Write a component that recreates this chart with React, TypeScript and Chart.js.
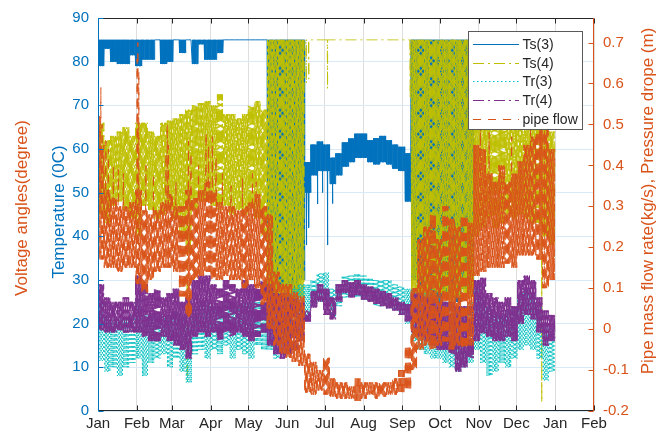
import React, { useEffect, useRef } from "react";
import { Chart, registerables } from "chart.js";

Chart.register(...registerables);

// ---------- axis / tick data ----------
const monthLabels = ["Jan", "Feb", "Mar", "Apr", "May", "Jun", "Jul", "Aug", "Sep", "Oct", "Nov", "Dec", "Jan", "Feb"];
const monthStartDays = [0, 31, 59, 90, 120, 151, 181, 212, 243, 273, 304, 334, 365, 396];
const tempTicks = [0, 10, 20, 30, 40, 50, 60, 70, 80, 90];
const flowTicks = [-0.2, -0.1, 0, 0.1, 0.2, 0.3, 0.4, 0.5, 0.6, 0.7];
const NODE_DAYS = 5; // each high/low pair below covers a 5-day window starting Jan 1

// ---------- series envelopes (5-day windows) ----------
const ts3High = [
  85, 85, 85, 85, 85, 85, 85, 85, 85, 85, 85, 85, 85, 85, 85, 85, 85, 85, 85, 85, 85, 85, 85, 85, 85, 85, 85,
  85, 85, 85, 85, 85, 85,
  57, 61, 61.7, 61, 58, 59, 61.5, 62.4, 63.5, 63.5, 62, 62.5, 63, 62, 61, 60.5, 59,
  85, 85, 85, 85, 85, 85, 85, 85, 85, 85,
  85, 85, 85, 85, 85, 85, 85, 85, 85, 85, 85, 85, 85,
];
const ts3Low = [
  79, 83, 80, 79.5, 79.5, 81.5, 79, 80.5, 80.5, 85, 79.5, 80, 85, 82, 85, 79.5, 84, 80.5, 80.5, 82, 85, 85, 85, 85, 85, 85, 85,
  27, 25, 28, 26, 25, 30,
  50, 54, 55, 55, 52, 54, 56, 57, 58, 58, 57, 56.5, 57, 56.5, 55.5, 55, 48,
  30, 27, 25, 26, 25, 27, 26, 25, 28, 27,
  85, 85, 85, 85, 85, 85, 85, 85, 85, 85, 85, 85, 85,
];
const ts3Spikes = [[166.3, 38], [168.3, 42], [175.3, 47.4], [179.3, 50], [183.3, 38], [187.3, 47.5]];

const ts4High = [
  66, 62, 63, 64, 65, 63, 66, 66, 64, 63, 66, 66.5, 67, 68, 69, 70, 70.5, 71, 70, 72.5, 68, 68, 67, 68, 70, 71, 69,
  85, 85, 85, 85, 85, 85,
  85, 85, 85, 85, 85, 85, 85, 85, 85, 85, 85, 85, 85, 85, 85, 85, 85,
  85, 85, 85, 85, 85, 85, 85, 85, 85, 85,
  70, 68, 66, 66, 67, 66, 65, 66, 67, 68, 66, 66, 64,
];
const ts4Low = [
  45, 43, 47, 48, 46, 44, 40, 47, 46, 44, 45, 46, 44, 40, 36, 46, 48, 48, 47, 46, 47, 45, 46, 45, 46, 44, 40,
  24, 23, 25, 24, 23, 26,
  85, 85, 85, 85, 85, 85, 85, 85, 85, 85, 85, 85, 85, 85, 85, 85, 85,
  26, 25, 26, 25, 27, 26, 25, 26, 27, 26,
  40, 42, 44, 42, 43, 45, 44, 45, 44, 43, 42, 40, 38,
];
const ts4Spikes = [[71.3, 7], [166.3, 75], [168.3, 76], [183.3, 73.8], [249.3, 71.5], [354.3, 2]];

const tr3High = [
  25, 22, 21, 21, 21, 22, 26, 22, 22, 22, 22, 22, 23, 22, 20, 24, 25, 25, 24, 24, 25, 25, 24, 25, 25, 26, 25,
  25, 24, 26, 27, 28, 29,
  29, 30, 31.5, 31.7, 28, 29, 31, 31, 31.5, 31, 30.5, 30, 30, 30, 29, 28.5, 28,
  28, 27, 27, 26, 26, 25, 25, 24, 24, 25,
  28, 26, 24, 22, 22, 23, 24, 27, 28, 27, 24, 20, 19,
];
const tr3Low = [
  11.5, 9, 10, 8, 10, 11, 12, 8, 11, 12, 13, 10, 12, 9, 6.5, 13, 14, 12, 14, 13, 15, 12, 14, 13, 12, 15, 14,
  14, 12, 15, 16, 18, 20,
  21, 24, 25, 25, 21.5, 24, 26, 26, 26, 25.5, 25, 24, 24, 23.5, 23, 22, 20,
  16, 14, 13, 12, 12, 11, 10, 9, 10, 11,
  14, 11, 8, 9, 11, 10, 12, 14, 15, 14, 12, 7, 9,
];
const tr3Spikes: number[][] = [];

const tr4High = [
  29, 26, 25, 25, 26, 25, 31, 29, 27, 28, 26, 27, 28, 25, 26, 30, 31, 31, 29, 28, 30, 29, 28, 30, 29, 29, 30,
  29, 27, 27, 26, 26, 25,
  23, 27.5, 29, 28, 26, 29, 30, 29.5, 30, 29, 28.5, 28, 27.5, 27, 26, 25, 24.5,
  27, 27, 26, 26, 25, 25, 25, 24, 24, 24,
  30, 30.5, 27, 26, 25, 26, 24, 30, 31, 30, 26, 23, 22,
];
const tr4Low = [
  18.5, 18, 18, 18.5, 18, 18, 18, 17, 16, 16, 17, 16, 15, 14, 12, 17, 18, 17, 18, 16, 18, 17, 18, 17, 16, 17, 18,
  15, 13, 12, 13, 14, 16,
  20.5, 23.7, 25, 22, 21, 25, 27, 26, 26.5, 25.5, 25, 24.5, 24, 23.5, 23, 22, 20.5,
  18, 17, 16, 15, 14, 14, 13, 9, 10, 12,
  16, 17.8, 17, 16, 16, 17, 16, 20, 22, 21, 18, 15, 16,
];
const tr4Spikes: number[][] = [];

const pipeHigh = [
  0.45, 0.34, 0.32, 0.3, 0.3, 0.31, 0.34, 0.29, 0.28, 0.29, 0.31, 0.33, 0.3, 0.3, 0.34, 0.32, 0.34, 0.36, 0.34, 0.31, 0.3, 0.3, 0.29, 0.3, 0.31, 0.33, 0.3,
  0.28, 0.14, 0.11, 0.11, 0.09, 0.08,
  -0.06, -0.08, -0.1, -0.07, -0.12, -0.13, -0.13, -0.14, -0.12, -0.13, -0.13, -0.13, -0.13, -0.13, -0.12, -0.1, -0.04,
  0.1, 0.22, 0.25, 0.28, 0.22, 0.3, 0.27, 0.25, 0.28, 0.26,
  0.45, 0.44, 0.38, 0.36, 0.4, 0.36, 0.38, 0.41, 0.45, 0.47, 0.5, 0.5, 0.44,
];
const pipeLow = [
  0.17, 0.15, 0.15, 0.14, 0.15, 0.15, 0.11, 0.09, 0.12, 0.14, 0.15, 0.15, 0.14, 0.08, 0.03, 0.12, 0.13, 0.14, 0.12, 0.12, 0.13, 0.12, 0.12, 0.1, 0.12, 0.1, 0.06,
  0.0, -0.04, -0.06, -0.07, -0.08, -0.09,
  -0.155, -0.16, -0.15, -0.16, -0.165, -0.17, -0.17, -0.17, -0.175, -0.17, -0.16, -0.17, -0.165, -0.16, -0.16, -0.155, -0.15,
  -0.1, -0.05, -0.04, -0.05, -0.04, -0.03, -0.05, -0.04, -0.05, -0.04,
  0.13, 0.14, 0.15, 0.15, 0.15, 0.16, 0.15, 0.18, 0.18, 0.18, 0.17, 0.1, 0.12,
];
const pipeSpikes = [
  [1.3, 0.52], [2.3, 0.59], [3.3, 0.5], [6.3, 0.46], [8.3, 0.44], [12.3, 0.4], [16.3, 0.39], [20.3, 0.38],
  [31.2, 0.66], [31.8, 0.7], [32.6, 0.63], [38.3, 0.4], [44.3, 0.38], [54.3, 0.43], [55.3, 0.5], [56.3, 0.45],
  [62.3, 0.36], [72.3, 0.46], [74.3, 0.43], [80.3, 0.4], [86.3, 0.48], [88.3, 0.45], [91.3, 0.47], [94.3, 0.42],
  [99.3, 0.38], [106.3, 0.35], [115.3, 0.37], [123.3, 0.38], [126.3, 0.36],
  [305.3, 0.5], [312.3, 0.48], [330.3, 0.47], [345.3, 0.52], [352.3, 0.56], [356.3, 0.58],
];

// ---------- styling ----------
const C_BLUE = "#0072BD";
const C_OLIVE = "#BFBF00";
const C_CYAN = "#00BFBF";
const C_PURPLE = "#7E2F8E";
const C_ORANGE = "#D95319";
const C_DARK = "#262626";
const FONT = '"Liberation Sans", Arial, Helvetica, sans-serif';

const DASH_DASHDOT = [11, 4, 2, 4];
const DASH_DOT = [1.5, 2.5];
const DASH_DASH = [8, 7];

const legendEntries = [
  { label: "Ts(3)", color: C_BLUE, dash: [] as number[] },
  { label: "Ts(4)", color: C_OLIVE, dash: DASH_DASHDOT },
  { label: "Tr(3)", color: C_CYAN, dash: DASH_DOT },
  { label: "Tr(4)", color: C_PURPLE, dash: DASH_DASHDOT },
  { label: "pipe flow", color: C_ORANGE, dash: DASH_DASH },
];

// Samples (every `step` days) alternate between the window's high and low envelope values.
function buildSeries(high: number[], low: number[], spikes: number[][], step: number) {
  const pts: { x: number; y: number }[] = [];
  const n = Math.round((high.length * NODE_DAYS) / step);
  for (let i = 0; i < n; i++) {
    const d = i * step;
    const k = Math.min(high.length - 1, Math.floor(d / NODE_DAYS + 1e-9));
    pts.push({ x: d, y: i % 2 === 0 ? high[k] : low[k] });
  }
  spikes.forEach(([d, v]) => pts.push({ x: d, y: v }));
  pts.sort((a, b) => a.x - b.x);
  return pts;
}

const overlayPlugin = {
  id: "matlabOverlay",
  afterDraw(chart: any) {
    const ctx: CanvasRenderingContext2D = chart.ctx;
    const { left, right, top, bottom } = chart.chartArea;
    const xs = chart.scales.x;
    const yl = chart.scales.y;
    const yr = chart.scales.y1;
    const L = Math.round(left) + 0.5;
    const R = Math.round(right) - 0.5;
    const T = Math.round(top) + 0.5;
    const B = Math.round(bottom) - 0.5;
    ctx.save();
    ctx.lineWidth = 1;
    ctx.setLineDash([]);
    ctx.strokeStyle = C_DARK;
    ctx.beginPath();
    ctx.moveTo(L, T); ctx.lineTo(R, T);
    ctx.moveTo(L, B); ctx.lineTo(R, B);
    ctx.stroke();
    ctx.beginPath();
    monthStartDays.forEach((d) => {
      const px = Math.round(xs.getPixelForValue(d)) + 0.5;
      ctx.moveTo(px, B); ctx.lineTo(px, B - 5);
      ctx.moveTo(px, T); ctx.lineTo(px, T + 5);
    });
    ctx.stroke();
    ctx.strokeStyle = C_BLUE;
    ctx.beginPath();
    ctx.moveTo(L, T - 0.5); ctx.lineTo(L, B + 0.5);
    tempTicks.forEach((v) => {
      const py = Math.round(yl.getPixelForValue(v)) + 0.5;
      ctx.moveTo(L, py); ctx.lineTo(L + 5, py);
    });
    ctx.stroke();
    ctx.strokeStyle = C_ORANGE;
    ctx.beginPath();
    ctx.moveTo(R, T - 0.5); ctx.lineTo(R, B + 0.5);
    flowTicks.forEach((v) => {
      const py = Math.round(yr.getPixelForValue(v)) + 0.5;
      ctx.moveTo(R, py); ctx.lineTo(R - 5, py);
    });
    ctx.stroke();

    // legend
    const bx = 468.5, by = 31.5, bw = 114, bh = 98;
    ctx.fillStyle = "#ffffff";
    ctx.fillRect(bx, by, bw, bh);
    ctx.strokeStyle = "#5a5a5a";
    ctx.strokeRect(bx, by, bw, bh);
    ctx.font = `14px ${FONT}`;
    ctx.textAlign = "left";
    ctx.textBaseline = "middle";
    legendEntries.forEach((e, i) => {
      const yy = Math.round(44 + i * 18.7) + 0.5;
      ctx.strokeStyle = e.color;
      ctx.setLineDash(e.dash);
      ctx.beginPath();
      ctx.moveTo(473, yy); ctx.lineTo(519, yy);
      ctx.stroke();
      ctx.setLineDash([]);
      ctx.fillStyle = C_DARK;
      ctx.fillText(e.label, 522.5, yy + 0.5);
    });

    // axis titles
    ctx.font = `17px ${FONT}`;
    ctx.textAlign = "center";
    ctx.textBaseline = "middle";
    const rotText = (text: string, x: number, y: number, color: string) => {
      ctx.save();
      ctx.translate(x, y);
      ctx.rotate(-Math.PI / 2);
      ctx.fillStyle = color;
      ctx.fillText(text, 0, 0);
      ctx.restore();
    };
    rotText("Voltage angles(degree)", 22, 208, C_ORANGE);
    rotText("Temperature (0C)", 59.5, 212, C_BLUE);
    rotText("Pipe mass flow rate(kg/s), Pressure drope (m)", 648.5, 201, C_ORANGE);
    ctx.restore();
  },
};

export default function App() {
  const canvasRef = useRef<HTMLCanvasElement | null>(null);

  useEffect(() => {
    if (!canvasRef.current) return;
    Chart.defaults.font.family = FONT;
    const mk = (label: string, data: any, color: string, dash: number[], axis: string, order: number) => ({
      label,
      data,
      yAxisID: axis,
      borderColor: color,
      backgroundColor: color,
      borderWidth: 1,
      borderDash: dash,
      pointRadius: 0,
      pointHoverRadius: 0,
      fill: false,
      tension: 0,
      order,
    });
    const chart = new Chart(canvasRef.current, {
      type: "line",
      data: {
        datasets: [
          mk("Ts(3)", buildSeries(ts3High, ts3Low, ts3Spikes, 0.25), C_BLUE, [], "y", 5),
          mk("Ts(4)", buildSeries(ts4High, ts4Low, ts4Spikes, 1 / 3), C_OLIVE, DASH_DASHDOT, "y", 4),
          mk("Tr(3)", buildSeries(tr3High, tr3Low, tr3Spikes, 0.5), C_CYAN, DASH_DOT, "y", 3),
          mk("Tr(4)", buildSeries(tr4High, tr4Low, tr4Spikes, 0.25), C_PURPLE, DASH_DASHDOT, "y", 2),
          mk("pipe flow", buildSeries(pipeHigh, pipeLow, pipeSpikes, 1 / 3), C_ORANGE, DASH_DASH, "y1", 1),
        ] as any,
      },
      options: {
        responsive: false,
        animation: false,
        devicePixelRatio: 1,
        parsing: false,
        normalized: true,
        events: [],
        layout: { padding: { top: 16, left: 0, right: 0, bottom: 0 } },
        plugins: { legend: { display: false }, tooltip: { enabled: false } },
        scales: {
          x: {
            type: "linear",
            min: 0,
            max: 396,
            afterBuildTicks: (s: any) => {
              s.ticks = monthStartDays.map((v) => ({ value: v }));
            },
            afterFit: (s: any) => {
              s.height = 25;
            },
            ticks: {
              autoSkip: false,
              maxRotation: 0,
              padding: 4,
              color: C_DARK,
              font: { size: 15 },
              callback: (_v: any, i: number) => monthLabels[i],
            },
            grid: { color: "#DEDEDE", drawTicks: false },
            border: { display: false },
          },
          y: {
            type: "linear",
            position: "left",
            min: 0,
            max: 90,
            afterBuildTicks: (s: any) => {
              s.ticks = tempTicks.map((v) => ({ value: v }));
            },
            afterFit: (s: any) => {
              s.width = 98;
            },
            ticks: { padding: 9, color: C_BLUE, font: { size: 15 } },
            grid: { color: "#D9E9F5", drawTicks: false },
            border: { display: false },
          },
          y1: {
            type: "linear",
            position: "right",
            min: -0.2,
            max: 0.76,
            afterBuildTicks: (s: any) => {
              s.ticks = flowTicks.map((v) => ({ value: v }));
            },
            afterFit: (s: any) => {
              s.width = 70;
            },
            ticks: {
              padding: 9,
              color: C_ORANGE,
              font: { size: 15 },
              callback: (v: any) => {
                const r = Math.round(Number(v) * 10) / 10;
                return r === 0 ? "0" : String(r);
              },
            },
            grid: { display: false, drawTicks: false },
            border: { display: false },
          },
        },
      } as any,
      plugins: [overlayPlugin],
    });
    return () => chart.destroy();
  }, []);

  return (
    <div style={{ position: "absolute", left: 0, top: 0, width: 664, height: 436, background: "#ffffff" }}>
      <canvas ref={canvasRef} width={664} height={436} style={{ width: 664, height: 436, display: "block" }} />
    </div>
  );
}
